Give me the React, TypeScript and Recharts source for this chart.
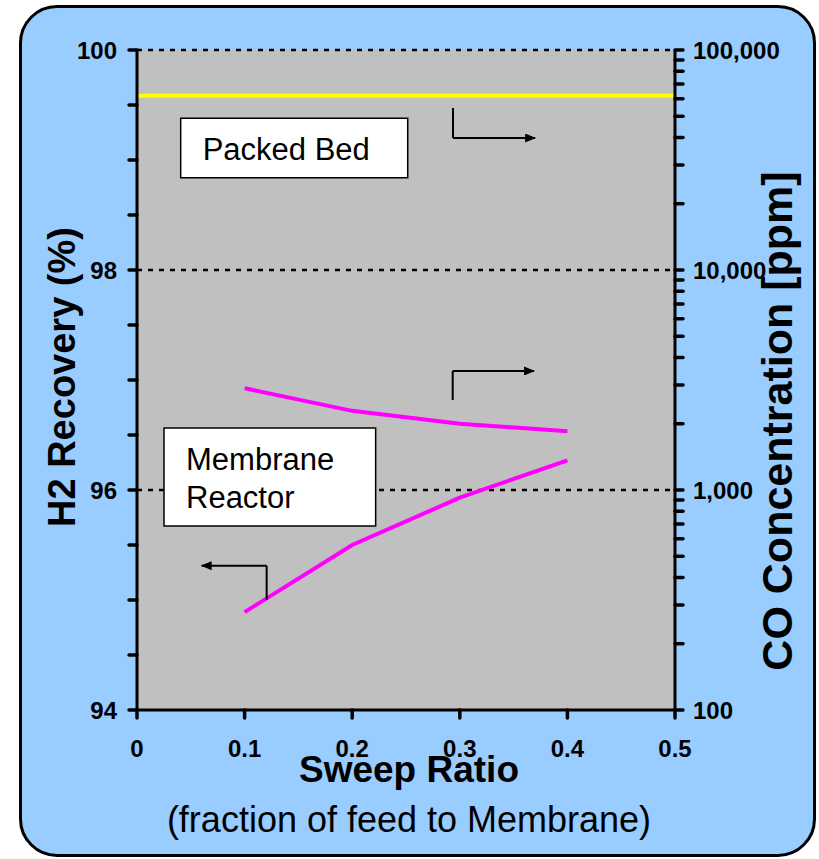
import {
  ComposedChart,
  CartesianGrid,
  Line,
  ReferenceArea,
  ReferenceLine,
  XAxis,
  YAxis,
} from "recharts";

const FONT = "'Liberation Sans', Arial, sans-serif";

// sweep ratio (fraction of feed to membrane)
const sweepRatio = [0.1, 0.2, 0.3, 0.4];
// membrane reactor results
const h2Recovery = [94.89, 95.5, 95.93, 96.27]; // %, left axis
const coMembrane = [2900, 2290, 2000, 1850]; // ppm, right axis
// packed bed reference (flat across the whole range)
const packedBedX = [0, 0.5];
const packedBedCO = [62000, 62000];

const xTicks = [0, 0.1, 0.2, 0.3, 0.4, 0.5];
const h2Ticks = [94, 94.5, 95, 95.5, 96, 96.5, 97, 97.5, 98, 98.5, 99, 99.5, 100];
const h2Labels = [94, 96, 98, 100];
const coTicks = [
  100, 200, 300, 400, 500, 600, 700, 800, 900,
  1000, 2000, 3000, 4000, 5000, 6000, 7000, 8000, 9000,
  10000, 20000, 30000, 40000, 50000, 60000, 70000, 80000, 90000,
  100000,
];
const coLabels = [100, 1000, 10000, 100000];

// annotation boxes and elbow arrows, in (sweep ratio, H2 recovery) units
const boxes = [
  { x1: 0.0406, x2: 0.2516, y1: 98.839, y2: 99.379, lines: ["Packed Bed"], top: 42 },
  { x1: 0.0251, x2: 0.2218, y1: 95.673, y2: 96.564, lines: ["Membrane", "Reactor"], top: 42 },
];
const arrows = [
  { start: [0.2937, 99.473], corner: [0.2937, 99.2], end: [0.37, 99.2] },
  { start: [0.2934, 96.818], corner: [0.2934, 97.082], end: [0.369, 97.082] },
  { start: [0.1205, 95.0], corner: [0.1205, 95.312], end: [0.0601, 95.312] },
];

const membraneData = sweepRatio.map((x, i) => ({ x, h2: h2Recovery[i], co: coMembrane[i] }));
const packedData = packedBedX.map((x, i) => ({ x, co: packedBedCO[i] }));

const tickStyle = { fill: "#000", fontSize: 24, fontWeight: "bold", fontFamily: FONT };
const axisStyle = { stroke: "#000", strokeWidth: 3 };
const tickLineStyle = { stroke: "#000", strokeWidth: 3.5, strokeLinecap: "round" as const };

function BoxText(lines: string[], top: number) {
  return (props: any) => {
    const vb = props.viewBox;
    return (
      <text x={vb.x + 22} y={vb.y + top} fontFamily={FONT} fontSize={31} fill="#000">
        {lines.map((l, i) => (
          <tspan key={l} x={vb.x + 22} dy={i === 0 ? 0 : 38}>
            {l}
          </tspan>
        ))}
      </text>
    );
  };
}

function segmentShape(withHead: boolean) {
  return (p: any) => (
    <line
      x1={p.x1}
      y1={p.y1}
      x2={p.x2}
      y2={p.y2}
      stroke="#000"
      strokeWidth={2}
      markerEnd={withHead ? "url(#arrowHead)" : undefined}
    />
  );
}

export default function App() {
  return (
    <div style={{ position: "absolute", left: 0, top: 0, width: 819, height: 859 }}>
      <div
        style={{
          position: "absolute",
          left: 19,
          top: 5,
          width: 797,
          height: 852,
          boxSizing: "border-box",
          border: "3px solid #000",
          borderRadius: 38,
          background: "#99CCFF",
        }}
      />
      <div style={{ position: "absolute", left: 0, top: 0 }}>
        <ComposedChart width={819} height={859} margin={{ top: 50, right: 0, bottom: 0, left: 0 }}>
          <defs>
            <marker
              id="arrowHead"
              markerUnits="userSpaceOnUse"
              markerWidth={11}
              markerHeight={9}
              refX={10}
              refY={4.5}
              orient="auto"
            >
              <path d="M0,0 L11,4.5 L0,9 z" fill="#000" />
            </marker>
          </defs>
          <CartesianGrid
            yAxisId="left"
            fill="#C0C0C0"
            fillOpacity={1}
            vertical={false}
            horizontalValues={[96, 98, 100]}
            stroke="#000"
            strokeWidth={2.5}
            strokeDasharray="5 6"
          />
          <XAxis
            type="number"
            dataKey="x"
            domain={[0, 0.5]}
            ticks={xTicks}
            interval={0}
            height={149}
            tickSize={8}
            tickMargin={22}
            tick={tickStyle}
            axisLine={axisStyle}
            tickLine={tickLineStyle}
            label={(props: any) => {
              const vb = props.viewBox;
              const cx = vb.x + vb.width / 2 + 3;
              return (
                <g>
                  <text x={cx} y={782} textAnchor="middle" fontFamily={FONT} fontSize={37} fontWeight="bold" fill="#000">
                    Sweep Ratio
                  </text>
                  <text x={cx} y={832} textAnchor="middle" fontFamily={FONT} fontSize={36} fill="#000">
                    (fraction of feed to Membrane)
                  </text>
                </g>
              );
            }}
          />
          <YAxis
            yAxisId="left"
            type="number"
            domain={[94, 100]}
            ticks={h2Ticks}
            interval={0}
            width={137}
            tickSize={8}
            tickMargin={12}
            tick={tickStyle}
            axisLine={axisStyle}
            tickLine={tickLineStyle}
            tickFormatter={(v: number) => (h2Labels.includes(v) ? String(v) : "")}
            label={(props: any) => {
              const vb = props.viewBox;
              const bx = vb.x + 75;
              const cy = vb.y + vb.height / 2 - 3;
              return (
                <text
                  x={bx}
                  y={cy}
                  transform={`rotate(-90, ${bx}, ${cy})`}
                  textAnchor="middle"
                  fontFamily={FONT}
                  fontSize={38}
                  fontWeight="bold"
                  fill="#000"
                >
                  H2 Recovery (%)
                </text>
              );
            }}
          />
          <YAxis
            yAxisId="right"
            orientation="right"
            type="number"
            scale="log"
            domain={[100, 100000]}
            ticks={coTicks}
            interval={0}
            width={144}
            tickSize={8}
            tickMargin={10}
            tick={tickStyle}
            axisLine={axisStyle}
            tickLine={tickLineStyle}
            tickFormatter={(v: number) => (coLabels.includes(v) ? v.toLocaleString("en-US") : "")}
            label={(props: any) => {
              const vb = props.viewBox;
              const bx = vb.x + 117;
              const cy = 421;
              return (
                <text
                  x={bx}
                  y={cy}
                  transform={`rotate(-90, ${bx}, ${cy})`}
                  textAnchor="middle"
                  fontFamily={FONT}
                  fontSize={43}
                  fontWeight="bold"
                  fill="#000"
                >
                  CO Concentration [ppm]
                </text>
              );
            }}
          />
          {boxes.map((b) => (
            <ReferenceArea
              key={b.lines[0]}
              yAxisId="left"
              x1={b.x1}
              x2={b.x2}
              y1={b.y1}
              y2={b.y2}
              fill="#fff"
              fillOpacity={1}
              stroke="#000"
              strokeWidth={1.5}
              label={BoxText(b.lines, b.top)}
            />
          ))}
          <Line
            yAxisId="right"
            data={packedData}
            dataKey="co"
            type="linear"
            stroke="#FFFF00"
            strokeWidth={4}
            dot={false}
            isAnimationActive={false}
          />
          <Line
            yAxisId="right"
            data={membraneData}
            dataKey="co"
            type="linear"
            stroke="#FF00FF"
            strokeWidth={4}
            dot={false}
            isAnimationActive={false}
          />
          <Line
            yAxisId="left"
            data={membraneData}
            dataKey="h2"
            type="linear"
            stroke="#FF00FF"
            strokeWidth={4}
            dot={false}
            isAnimationActive={false}
          />
          {arrows.map((a, i) => [
            <ReferenceLine
              key={`v${i}`}
              yAxisId="left"
              segment={[
                { x: a.start[0], y: a.start[1] },
                { x: a.corner[0], y: a.corner[1] },
              ]}
              shape={segmentShape(false)}
            />,
            <ReferenceLine
              key={`h${i}`}
              yAxisId="left"
              segment={[
                { x: a.corner[0], y: a.corner[1] },
                { x: a.end[0], y: a.end[1] },
              ]}
              shape={segmentShape(true)}
            />,
          ])}
        </ComposedChart>
      </div>
    </div>
  );
}
